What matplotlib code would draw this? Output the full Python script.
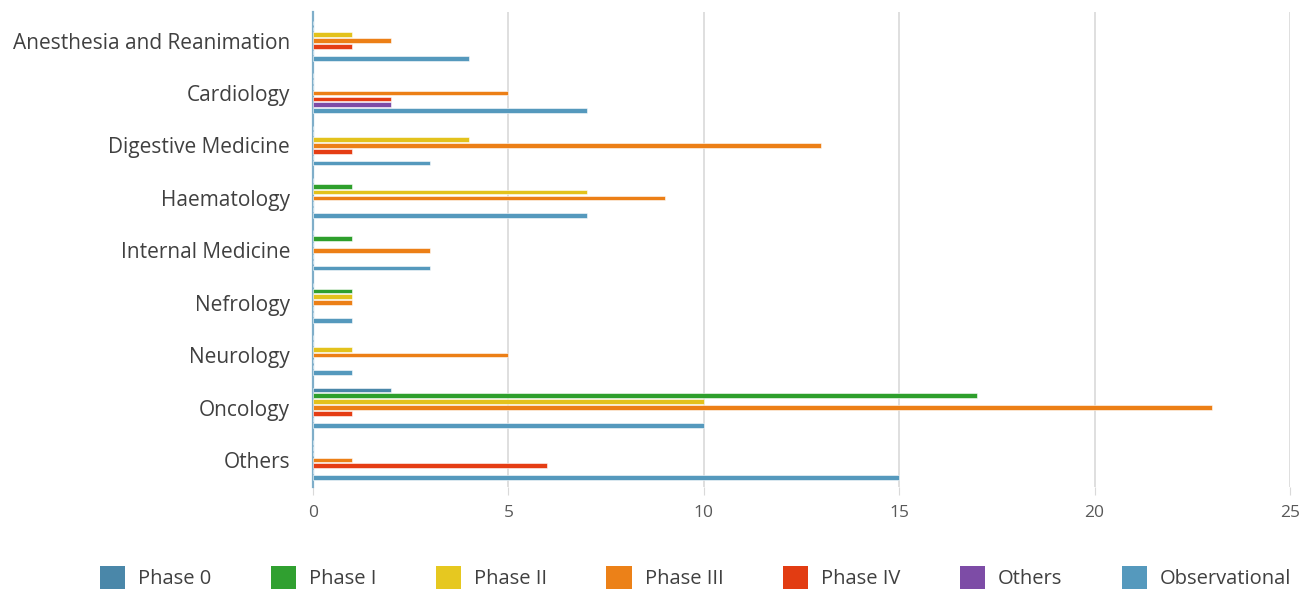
import numpy as np
import matplotlib.pyplot as plt
from matplotlib.patches import Patch

plt.rcParams['font.family'] = ['Open Sans', 'DejaVu Sans']

categories = ["Anesthesia and Reanimation", "Cardiology", "Digestive Medicine",
              "Haematology", "Internal Medicine", "Nefrology", "Neurology",
              "Oncology", "Others"]
series = ["Phase 0", "Phase I", "Phase II", "Phase III", "Phase IV", "Others", "Observational"]

phase0 = [0, 0, 0, 0, 0, 0, 0, 2, 0]
phase1 = [0, 0, 0, 1, 1, 1, 0, 17, 0]
phase2 = [1, 0, 4, 7, 0, 1, 1, 10, 0]
phase3 = [2, 5, 13, 9, 3, 1, 5, 23, 1]
phase4 = [1, 2, 1, 0, 0, 0, 0, 1, 6]
others = [0, 2, 0, 0, 0, 0, 0, 0, 0]
observational = [4, 7, 3, 7, 3, 1, 1, 10, 15]

values = [phase0, phase1, phase2, phase3, phase4, others, observational]
colors = ["#4a87a9", "#2e9f2c", "#e3c21c", "#ec7f16", "#e53d14", "#7d4ca6", "#5599bd"]
legend_colors = ["#4a87a9", "#30a030", "#e6c820", "#ec8118", "#e23c12", "#7d4ca6", "#5599bd"]

fig = plt.figure(figsize=(13.15, 5.92), dpi=100)
ax = fig.add_axes([0.238, 0.177, 0.743, 0.803])

y = np.arange(len(categories))
slot = 0.112
for k, (vals, col) in enumerate(zip(values, colors)):
    ax.barh(y + (k - 3) * slot, vals, height=0.09, color=col,
            edgecolor='white', linewidth=0.4, zorder=3)

ax.set_xlim(0, 25)
ax.set_ylim(8.52, -0.55)
ax.set_xticks([0, 5, 10, 15, 20, 25])
ax.set_yticks(y)
ax.set_yticklabels(categories, fontsize=15, color='#404040')
ax.tick_params(axis='y', length=0, pad=16.5)
ax.tick_params(axis='x', length=6, color='#d9d9d9', labelsize=12.5,
               labelcolor='#595959', pad=7)
ax.grid(axis='x', color='#d9d9d9', linewidth=1.2, zorder=0)
for s in ['top', 'right', 'bottom']:
    ax.spines[s].set_visible(False)
ax.spines['left'].set_color('#7faec9')
ax.spines['left'].set_linewidth(1.6)

handles = [Patch(facecolor=c, edgecolor='none') for c in legend_colors]
fig.legend(handles, series, loc='center', bbox_to_anchor=(0.529, 0.024), ncol=7,
           frameon=False, fontsize=14.5, handlelength=1.25, handleheight=1.4,
           columnspacing=2.95, handletextpad=0.65, labelcolor='#404040')

fig.savefig("out.png", dpi=100)
